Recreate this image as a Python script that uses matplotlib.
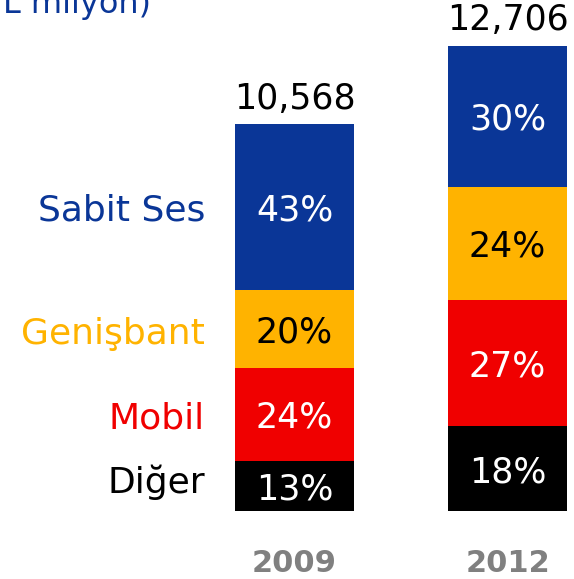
import matplotlib.pyplot as plt
import numpy as np

plt.rcParams['font.family'] = ['DejaVu Sans']

years = ['2009', '2012']
totals = [10568, 12706]
categories = ['Diğer', 'Mobil', 'Genişbant', 'Sabit Ses']   # bottom -> top
shares = {
    'Diğer': [13, 18],
    'Mobil': [24, 27],
    'Genişbant': [20, 24],
    'Sabit Ses': [43, 30],
}
colors = {
    'Diğer': '#000000',
    'Mobil': '#f00000',
    'Genişbant': '#ffb300',
    'Sabit Ses': '#0a3697',
}
label_colors = {'Diğer': 'white', 'Mobil': 'white', 'Genişbant': 'black', 'Sabit Ses': 'white'}

fig = plt.figure(figsize=(5.74, 5.79), dpi=100)
ax = fig.add_axes([0, 68 / 579, 1, 511 / 579])

x = np.arange(len(years))
width = 0.559
bottom = np.zeros(len(years))
seg_centers = {}
sums = np.array([sum(shares[c][i] for c in categories) for i in range(len(years))])
for cat in categories:
    # scale shares so each bar sums to its total
    h = np.array(shares[cat]) / sums * np.array(totals)
    ax.bar(x, h, width, bottom=bottom, color=colors[cat], linewidth=0)
    centers = bottom + h / 2
    seg_centers[cat] = centers
    for i in range(len(years)):
        ax.text(x[i], centers[i] - 100, f'{shares[cat][i]}%', ha='center', va='center',
                color=label_colors[cat], fontsize=25)
    bottom = bottom + h

# totals above bars
for i in range(len(years)):
    ax.text(x[i], totals[i] + 230, f'{totals[i]:,}', ha='center', va='bottom',
            fontsize=25, color='black')

# category labels left of the 2009 bar
offsets = {'Diğer': 90, 'Mobil': -120, 'Genişbant': -120, 'Sabit Ses': -100}
for cat in categories:
    ax.text(-0.42, seg_centers[cat][0] + offsets[cat], cat, ha='right', va='center',
            fontsize=26, color=colors[cat])

ax.set_xlim(-1.383, 1.312)
ax.set_ylim(0, 13954)
ax.set_xticks(x)
ax.set_xticklabels(years, fontsize=22, fontweight='bold', color='#808080')
ax.tick_params(axis='x', length=0, pad=27)
ax.set_yticks([])
for s in ax.spines.values():
    s.set_visible(False)

# unit note, cut off by the top edge as in the source
fig.text(-0.05, 1 - 13 / 579, '(TL milyon)', fontsize=23, color='#0a3697',
         ha='left', va='baseline')

fig.savefig('out.png', dpi=100)
